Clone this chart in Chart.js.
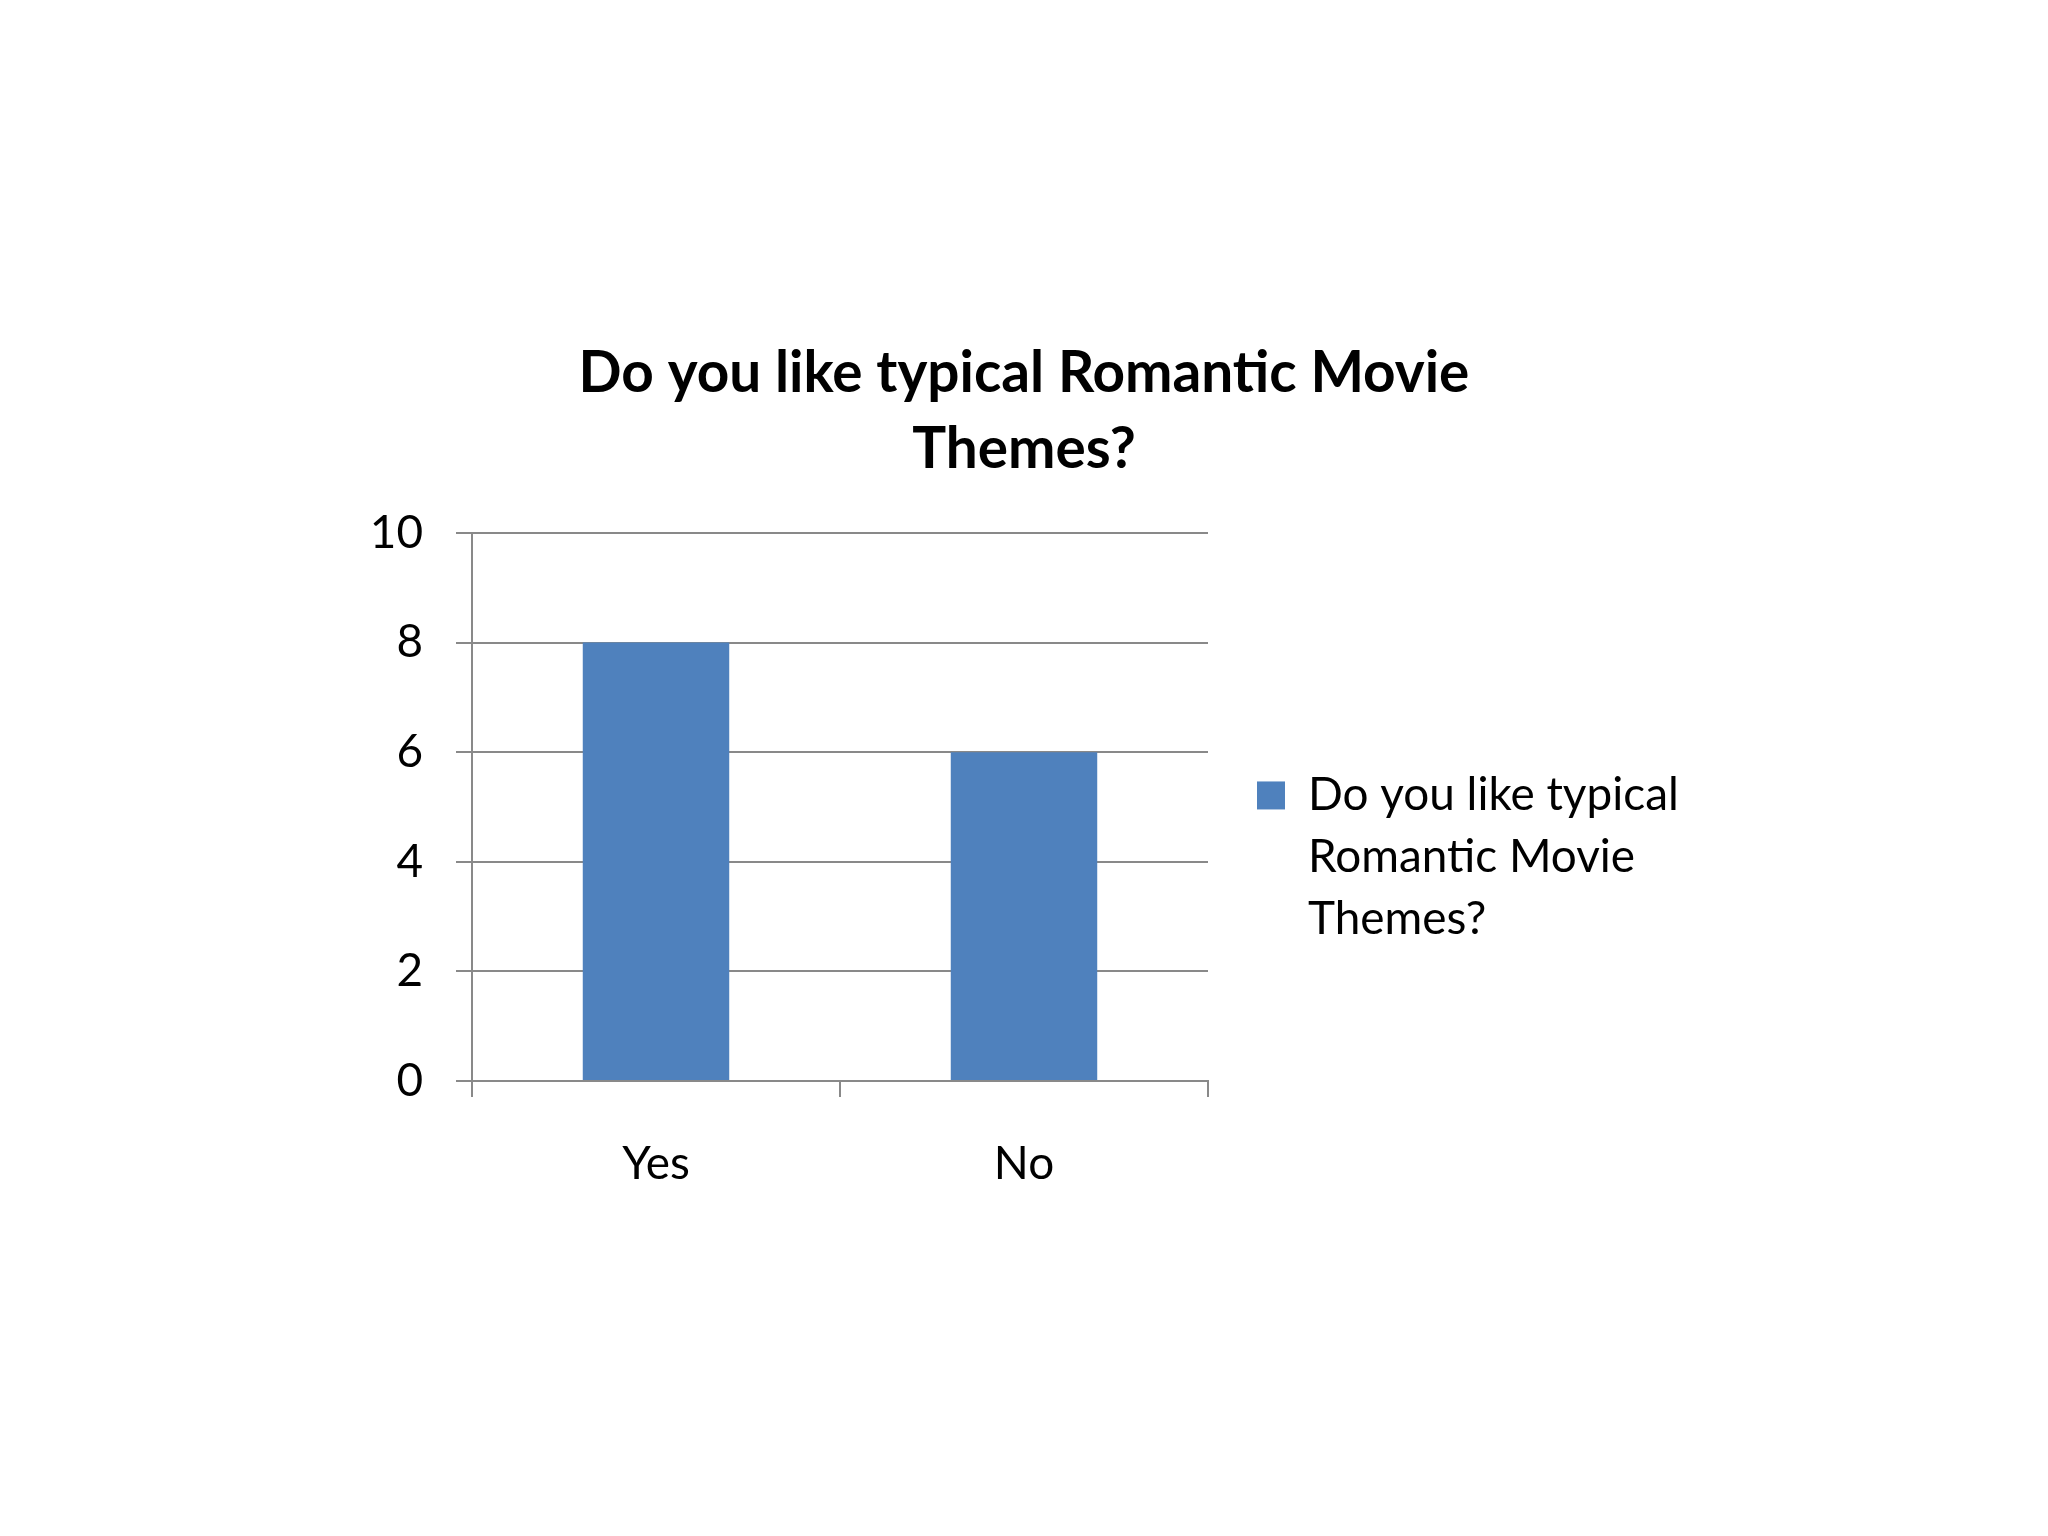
<!DOCTYPE html>
<html>
<head>
<meta charset="utf-8">
<script src="https://cdn.jsdelivr.net/npm/chart.js@4/dist/chart.umd.min.js"></script>
<style>
  html, body { margin: 0; padding: 0; background: #ffffff; }
  #wrap { width: 2048px; height: 1536px; }
</style>
</head>
<body>
<div id="wrap"><canvas id="c" width="2048" height="1536"></canvas></div>
<script>
// ---- data ----
const categories = ['Yes', 'No'];
const seriesName = 'Do you like typical Romantic Movie Themes?';
const seriesValues = [8, 6];
const titleLines = ['Do you like typical Romantic Movie', 'Themes?'];
const legendLines = ['Do you like typical', 'Romantic Movie', 'Themes?'];
const yTicks = [0, 2, 4, 6, 8, 10];

// ---- style / layout ----
const FONT = 'Lato';
const barColor = '#4F81BD';
const axisColor = '#898989';

const mctx = document.createElement('canvas').getContext('2d');
function fitSize(text, weight, target) {
  mctx.font = weight + ' 100px ' + FONT;
  return 100 * target / mctx.measureText(text).width;
}
const titleSize = fitSize(titleLines[0], 'bold', 891);
const labelSize = fitSize(legendLines[0], 'normal', 371);

const legendPad = 49;
const legendBox = 28;
const sidePad = 0;
const plotRight = 1208;
const plotLeft = 472;
const legendWidth = 2048 - sidePad - plotRight;
const padTop = 336;
const padBottom = 141;

// fixes the legend box width (like a scale's afterFit)
const legendWidthPlugin = {
  id: 'legendWidth',
  beforeLayout(chart) {
    const lg = chart.legend;
    if (lg && !lg._fixedWidth) {
      const orig = lg.fit.bind(lg);
      lg.fit = function () { orig(); this.width = legendWidth; };
      lg._fixedWidth = true;
    }
  }
};

Chart.defaults.font.family = FONT;
Chart.defaults.color = '#000000';

new Chart(document.getElementById('c'), {
  type: 'bar',
  data: {
    labels: categories,
    datasets: [{
      label: seriesName,
      data: seriesValues,
      backgroundColor: barColor,
      borderWidth: 0,
      barPercentage: 1.0,
      categoryPercentage: 0.398
    }]
  },
  plugins: [legendWidthPlugin],
  options: {
    responsive: false,
    devicePixelRatio: 1,
    animation: false,
    layout: { padding: { left: sidePad, right: sidePad, top: padTop, bottom: padBottom } },
    plugins: {
      tooltip: { enabled: false },
      title: {
        display: true,
        text: titleLines,
        color: '#000000',
        font: { family: FONT, size: titleSize, weight: 'bold', lineHeight: '76px' },
        padding: { top: 0, bottom: 45 }
      },
      legend: {
        display: true,
        position: 'right',
        align: 'center',
        labels: {
          boxWidth: legendBox,
          boxHeight: legendBox,
          padding: legendPad,
          color: '#000000',
          font: { family: FONT, size: labelSize, lineHeight: '62px' },
          generateLabels: (chart) => [{
            text: legendLines,
            fillStyle: barColor,
            strokeStyle: barColor,
            lineWidth: 0,
            hidden: false,
            datasetIndex: 0
          }]
        }
      }
    },
    scales: {
      x: {
        offset: true,
        grid: {
          display: true,
          offset: true,
          drawOnChartArea: false,
          drawTicks: true,
          tickLength: 16,
          color: axisColor,
          lineWidth: 2
        },
        border: { display: true, color: axisColor, width: 2 },
        ticks: {
          color: '#000000',
          font: { family: FONT, size: labelSize },
          padding: 40,
          maxRotation: 0
        },
        afterFit: (scale) => { scale.height = 1536 - padBottom - 1081; }
      },
      y: {
        min: 0,
        max: 10,
        afterBuildTicks: (scale) => { scale.ticks = yTicks.map(v => ({ value: v })); },
        grid: {
          display: true,
          drawOnChartArea: true,
          drawTicks: true,
          tickLength: 16,
          color: axisColor,
          lineWidth: 2
        },
        border: { display: true, color: axisColor, width: 2 },
        ticks: {
          color: '#000000',
          font: { family: FONT, size: labelSize },
          padding: 33
        },
        afterFit: (scale) => { scale.width = plotLeft - sidePad; }
      }
    }
  }
});
</script>
</body>
</html>
